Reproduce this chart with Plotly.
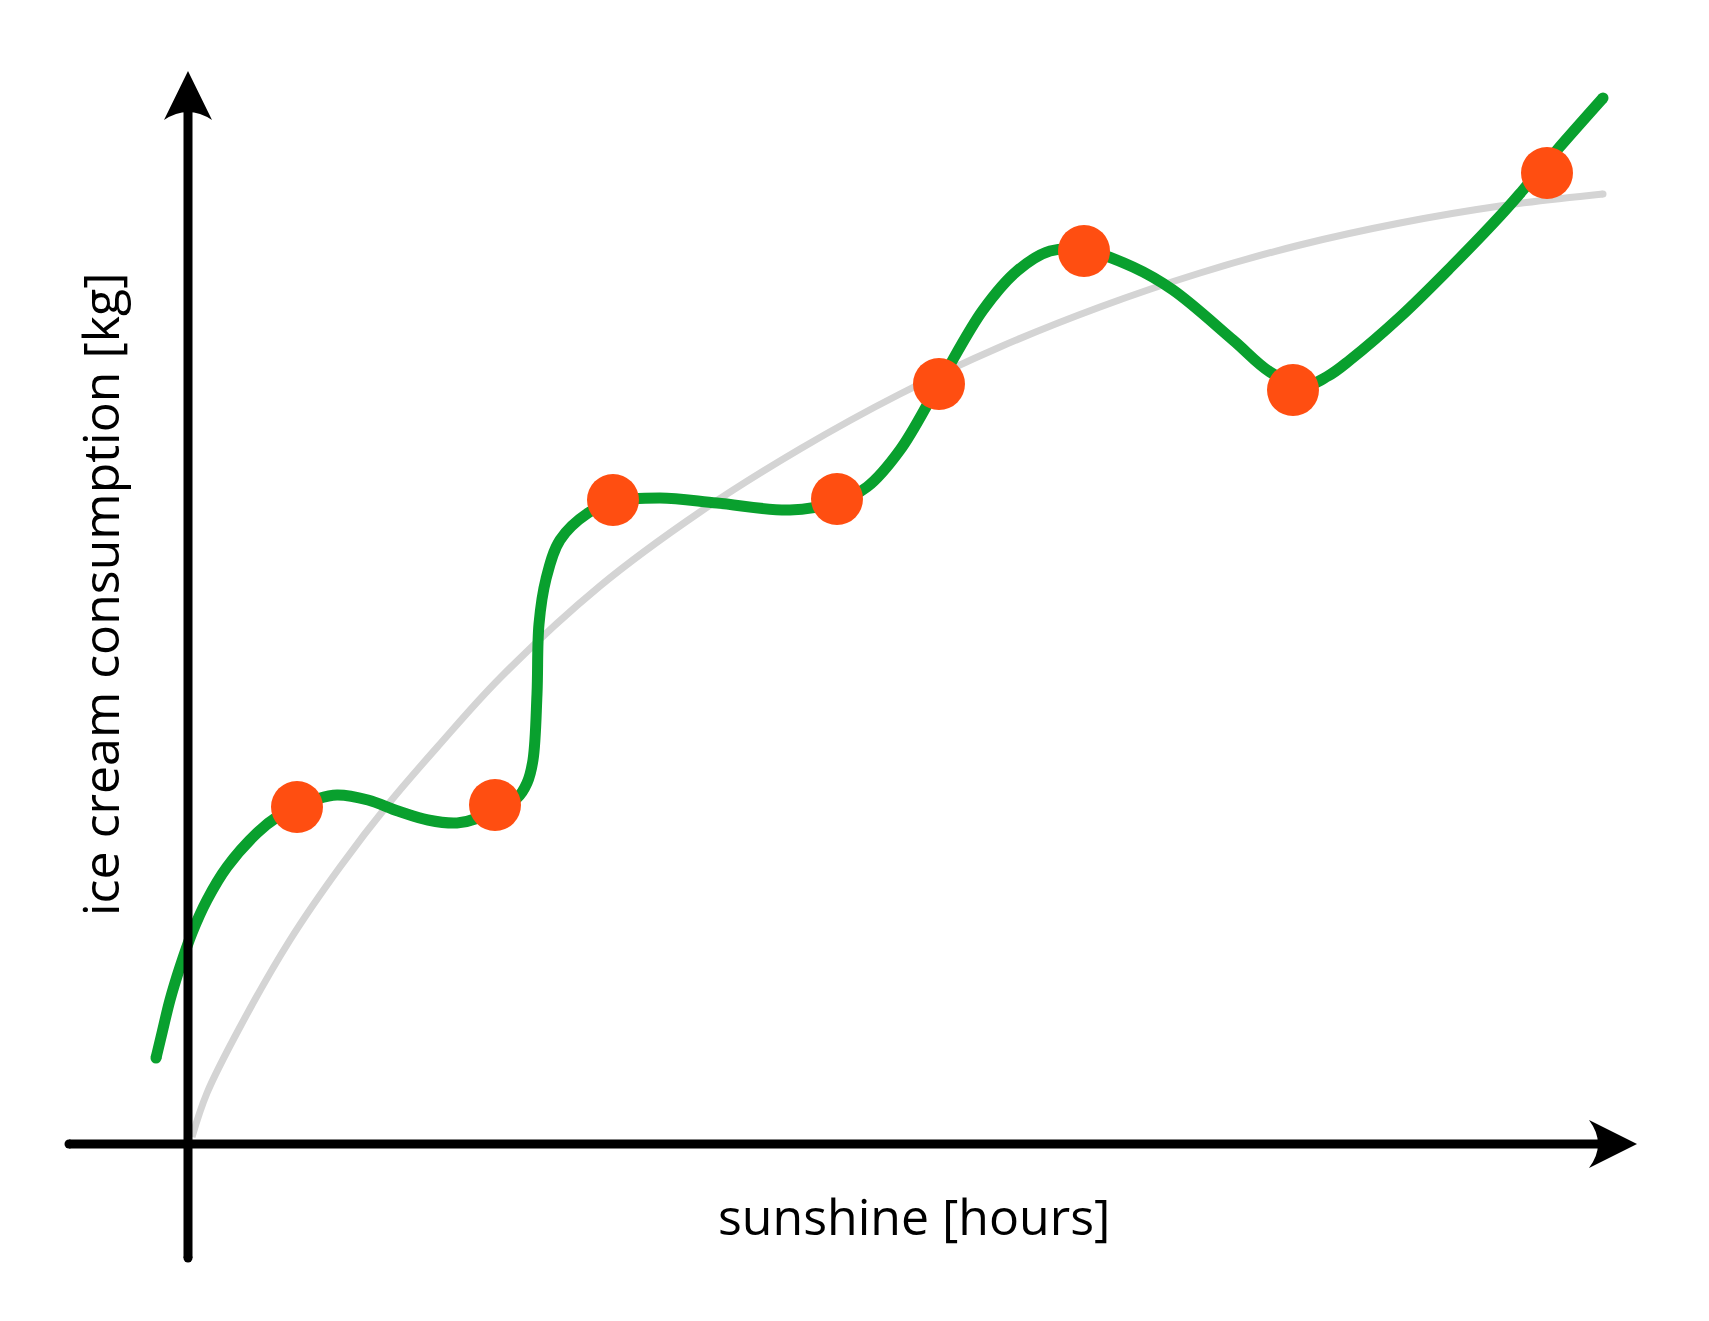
import plotly.graph_objects as go

# observed data points (sunshine, consumption) in chart units
obs_x = [1.09, 3.07, 4.25, 6.49, 7.51, 8.96, 11.05, 13.59]
obs_y = [3.37, 3.39, 6.44, 6.45, 7.60, 8.93, 7.54, 9.71]

# overfitted curve (green)
fit_x = [-0.32, -0.26, -0.18, -0.08, 0.04, 0.19, 0.39, 0.69, 0.89, 1.09, 1.29, 1.49,
         1.80, 2.10, 2.40, 2.69, 2.87, 3.07, 3.29, 3.39, 3.45, 3.49, 3.51, 3.58,
         3.72, 4.00, 4.25, 4.72, 5.29, 6.02, 6.49, 6.79, 7.12, 7.51, 7.95, 8.29,
         8.62, 8.96, 9.45, 9.85, 10.45, 10.82, 11.15, 11.40, 11.62, 12.12, 12.62,
         13.12, 13.35, 13.69, 14.15]
fit_y = [0.86, 1.11, 1.44, 1.77, 2.11, 2.44, 2.77, 3.11, 3.27, 3.37, 3.45, 3.49,
         3.44, 3.33, 3.24, 3.21, 3.25, 3.36, 3.46, 3.61, 3.84, 4.50, 5.20, 5.65,
         6.04, 6.31, 6.42, 6.46, 6.41, 6.34, 6.42, 6.57, 6.94, 7.60, 8.34, 8.73,
         8.93, 8.94, 8.77, 8.54, 8.04, 7.72, 7.58, 7.68, 7.84, 8.27, 8.76,
         9.28, 9.54, 9.94, 10.46]

# regular trend curve (grey)
trend_x = [0.04, 0.19, 0.52, 1.02, 1.52, 2.02, 2.52, 3.12, 4.12, 5.12, 6.12,
           7.12, 8.12, 9.12, 10.12, 11.12, 12.12, 13.12, 14.15]
trend_y = [0.07, 0.51, 1.17, 2.04, 2.77, 3.42, 4.00, 4.66, 5.58, 6.32, 6.95,
           7.50, 7.97, 8.37, 8.71, 8.99, 9.21, 9.38, 9.50]

x_label = "sunshine [hours]"
y_label = "ice cream consumption [kg]"

GREEN = "#09A02E"
GREY = "#D4D4D4"
ORANGE = "#FF4E11"

fig = go.Figure()
fig.add_trace(go.Scatter(x=trend_x, y=trend_y, mode="lines",
                         line=dict(color=GREY, width=7, shape="spline", smoothing=1.0,
                                   simplify=False),
                         hoverinfo="skip"))
fig.add_trace(go.Scatter(x=[trend_x[-1]], y=[trend_y[-1]], mode="markers",
                         marker=dict(color=GREY, size=7), hoverinfo="skip"))
fig.add_trace(go.Scatter(x=fit_x, y=fit_y, mode="lines",
                         line=dict(color=GREEN, width=11, shape="spline", smoothing=1.0,
                                   simplify=False),
                         hoverinfo="skip"))
fig.add_trace(go.Scatter(x=[fit_x[0], fit_x[-1]], y=[fit_y[0], fit_y[-1]], mode="markers",
                         marker=dict(color=GREEN, size=11), hoverinfo="skip"))
fig.add_trace(go.Scatter(x=obs_x, y=obs_y, mode="markers",
                         marker=dict(color=ORANGE, size=52, line=dict(width=0))))

# axes with arrowheads
AX_W = 9
fig.add_shape(type="line", x0=-1.19, y0=0, x1=14.15, y1=0,
              line=dict(color="black", width=AX_W), layer="above")
fig.add_shape(type="circle", x0=-1.235, y0=-0.045, x1=-1.145, y1=0.045,
              fillcolor="black", line=dict(width=0), layer="above")
fig.add_shape(type="path", path="M 14.49 0 L 14.01 0.24 Q 14.19 0 14.01 -0.24 Z",
              fillcolor="black", line=dict(width=0), layer="above")
fig.add_shape(type="line", x0=0, y0=-1.14, x1=0, y1=10.40,
              line=dict(color="black", width=AX_W), layer="above")
fig.add_shape(type="circle", x0=-0.045, y0=-1.185, x1=0.045, y1=-1.095,
              fillcolor="black", line=dict(width=0), layer="above")
fig.add_shape(type="path", path="M 0 10.73 L 0.24 10.24 Q 0 10.40 -0.24 10.24 Z",
              fillcolor="black", line=dict(width=0), layer="above")

fig.add_annotation(x=(914 - 188) / 100, y=(1144 - 1216) / 100, text=x_label,
                   showarrow=False, font=dict(family="Open Sans", size=50, color="black"),
                   xanchor="center", yanchor="middle")
fig.add_annotation(x=(100 - 188) / 100, y=(1144 - 594) / 100, text=y_label, textangle=-90,
                   showarrow=False, font=dict(family="Open Sans", size=50, color="black"),
                   xanchor="center", yanchor="middle")

fig.update_layout(
    width=1709, height=1321, margin=dict(l=0, r=0, t=0, b=0),
    paper_bgcolor="white", plot_bgcolor="white", showlegend=False,
    xaxis=dict(range=[-1.80, 15.29], visible=False, fixedrange=True),
    yaxis=dict(range=[-1.85, 11.36], visible=False, fixedrange=True),
)
fig.write_html("out.html")
